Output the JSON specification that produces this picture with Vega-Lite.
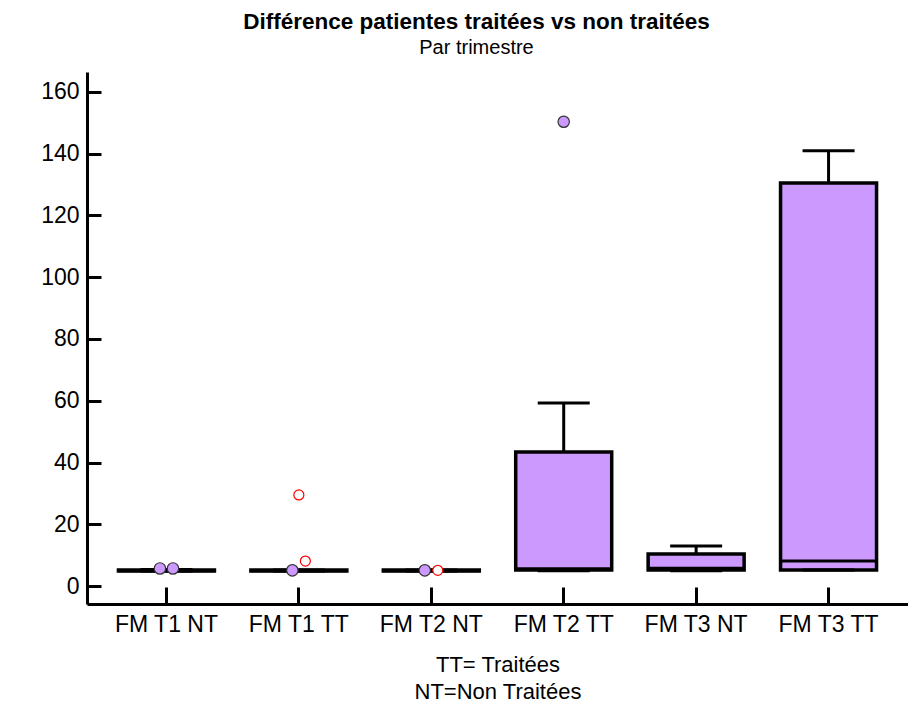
{
  "$schema": "https://vega.github.io/schema/vega-lite/v6.json",
  "width": 821,
  "height": 532,
  "autosize": {"type": "none"},
  "padding": {"left": 87, "top": 72, "right": 0, "bottom": 99},
  "background": "white",
  "title": {
    "text": "Différence patientes traitées vs non traitées",
    "subtitle": "Par trimestre",
    "font": "Liberation Sans",
    "fontSize": 22.5,
    "fontWeight": "bold",
    "color": "black",
    "subtitleFont": "Liberation Sans",
    "subtitleFontSize": 20,
    "subtitleColor": "black",
    "subtitlePadding": 5,
    "anchor": "middle",
    "dx": -21,
    "offset": 14
  },
  "config": {"view": {"stroke": null}},
  "datasets": {
    "boxes": [
      {"cat": "FM T1 NT", "lo": 4.9, "q1": 4.9, "med": 5.0, "q3": 5.2, "hi": 5.4},
      {"cat": "FM T1 TT", "lo": 4.9, "q1": 4.9, "med": 5.0, "q3": 5.2, "hi": 5.2},
      {"cat": "FM T2 NT", "lo": 4.9, "q1": 4.9, "med": 5.0, "q3": 5.2, "hi": 5.2},
      {"cat": "FM T2 TT", "lo": 5.0, "q1": 5.2, "med": 5.6, "q3": 43.4, "hi": 59.3},
      {"cat": "FM T3 NT", "lo": 5.0, "q1": 5.2, "med": 5.8, "q3": 10.4, "hi": 13.0},
      {"cat": "FM T3 TT", "lo": 5.2, "q1": 5.2, "med": 8.1, "q3": 130.5, "hi": 140.9}
    ],
    "points": [
      {"cat": "FM T1 NT", "v": 5.7, "kind": "far", "k": -1},
      {"cat": "FM T1 NT", "v": 5.7, "kind": "far", "k": 1},
      {"cat": "FM T1 TT", "v": 5.1, "kind": "far", "k": -1},
      {"cat": "FM T1 TT", "v": 8.1, "kind": "out", "k": 1},
      {"cat": "FM T1 TT", "v": 29.5, "kind": "out", "k": 0},
      {"cat": "FM T2 NT", "v": 5.1, "kind": "far", "k": -1},
      {"cat": "FM T2 NT", "v": 5.1, "kind": "out", "k": 1},
      {"cat": "FM T2 TT", "v": 150.3, "kind": "far", "k": 0}
    ]
  },
  "encoding": {
    "x": {
      "field": "cat",
      "type": "nominal",
      "sort": null,
      "scale": {"paddingInner": 0, "paddingOuter": 0.1},
      "axis": {
        "title": ["TT= Traitées", "NT=Non Traitées"],
        "titleFont": "Liberation Sans",
        "titleFontSize": 22,
        "titleFontWeight": "normal",
        "titleColor": "black",
        "titleLineHeight": 27,
        "titlePadding": 18,
        "labelFont": "Liberation Sans",
        "labelFontSize": 23,
        "labelColor": "black",
        "labelAngle": 0,
        "labelPadding": 26,
        "tickSize": -17,
        "tickWidth": 3,
        "tickColor": "black",
        "domainWidth": 3,
        "domainColor": "black",
        "grid": false
      }
    }
  },
  "layer": [
    {
      "data": {"name": "boxes"},
      "mark": {"type": "rule", "color": "black", "strokeWidth": 3},
      "encoding": {
        "y": {
          "field": "q3",
          "type": "quantitative",
          "scale": {"domain": [-5.8, 166.4], "nice": false, "zero": false},
          "axis": {
            "title": null,
            "values": [0, 10, 20, 30, 40, 50, 60, 70, 80, 90, 100, 110, 120, 130, 140, 150, 160],
            "labelExpr": "datum.value % 20 === 0 ? datum.label : ''",
            "tickSize": {"condition": {"test": "datum.value % 20 === 0", "value": -14}, "value": -9},
            "tickWidth": {"condition": {"test": "datum.value % 20 === 0", "value": 3}, "value": 2},
            "tickColor": "black",
            "domainWidth": 3,
            "domainColor": "black",
            "labelFont": "Liberation Sans",
            "labelFontSize": 23,
            "labelColor": "black",
            "labelPadding": 22,
            "grid": false
          }
        },
        "y2": {"field": "hi"}
      }
    },
    {
      "data": {"name": "boxes"},
      "mark": {"type": "rule", "color": "black", "strokeWidth": 3},
      "encoding": {
        "y": {"field": "lo", "type": "quantitative"},
        "y2": {"field": "q1"}
      }
    },
    {
      "data": {"name": "boxes"},
      "mark": {"type": "bar", "size": 96, "fill": "#cc99ff", "stroke": "black", "strokeWidth": 3.5},
      "encoding": {
        "y": {"field": "q1", "type": "quantitative"},
        "y2": {"field": "q3"}
      }
    },
    {
      "data": {"name": "boxes"},
      "mark": {"type": "tick", "size": 96, "thickness": 3, "color": "black", "opacity": 1},
      "encoding": {
        "y": {"field": "med", "type": "quantitative"}
      }
    },
    {
      "data": {"name": "boxes"},
      "mark": {"type": "tick", "size": 52, "thickness": 3, "color": "black", "opacity": 1},
      "encoding": {
        "y": {"field": "hi", "type": "quantitative"}
      }
    },
    {
      "data": {"name": "boxes"},
      "mark": {"type": "tick", "size": 52, "thickness": 3, "color": "black", "opacity": 1},
      "encoding": {
        "y": {"field": "lo", "type": "quantitative"}
      }
    },
    {
      "data": {"name": "points"},
      "mark": {"type": "point", "shape": "circle", "filled": false, "strokeWidth": 1.2, "opacity": 1},
      "encoding": {
        "y": {"field": "v", "type": "quantitative"},
        "xOffset": {"field": "k", "type": "quantitative", "scale": {"domain": [-1, 1], "range": [59.7, 72.7]}},
        "fill": {"field": "kind", "type": "nominal", "scale": {"domain": ["far", "out"], "range": ["#cc99ff", "white"]}, "legend": null},
        "stroke": {"field": "kind", "type": "nominal", "scale": {"domain": ["far", "out"], "range": ["#333333", "red"]}, "legend": null},
        "size": {"field": "kind", "type": "nominal", "scale": {"domain": ["far", "out"], "range": [130, 100]}, "legend": null}
      }
    }
  ]
}
